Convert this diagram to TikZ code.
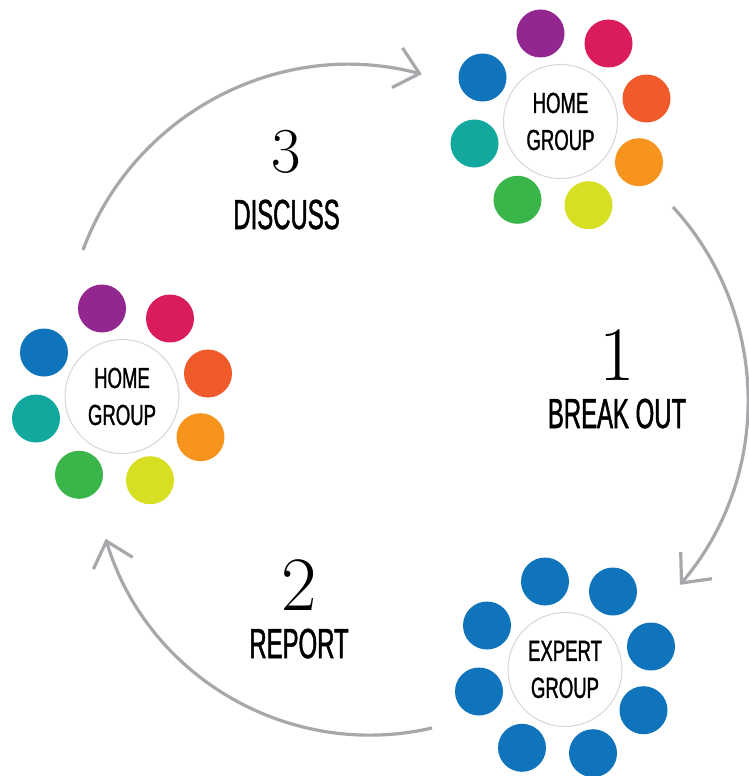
\documentclass[tikz,border=0pt]{standalone}
\usepackage{fontspec}
\newfontfamily\grpfont[FakeStretch=0.64,FakeBold=1.2]{Liberation Sans}
\newfontfamily\stepfont[FakeStretch=0.57,FakeBold=1.2]{Liberation Sans}
\usetikzlibrary{arrows.meta}
\definecolor{cpurple}{HTML}{92278F}
\definecolor{cmagenta}{HTML}{DA1C5C}
\definecolor{corangered}{HTML}{F15A2B}
\definecolor{corange}{HTML}{F7941E}
\definecolor{cyellow}{HTML}{D7DF23}
\definecolor{cgreen}{HTML}{39B54A}
\definecolor{cteal}{HTML}{12A89D}
\definecolor{cblue}{HTML}{1074BC}
\definecolor{hubline}{HTML}{D6D6D6}
\definecolor{arrowgray}{HTML}{A7A8AB}
\begin{document}
\begin{tikzpicture}[x=1pt,y=1pt,
  hub/.style={circle, draw=hubline, line width=1pt, fill=white, minimum size=114pt,
    inner sep=0pt, align=center, font=\grpfont\fontsize{29}{37}\selectfont},
  dot/.style={circle, minimum size=48pt, inner sep=0pt},
  flow/.style={draw=arrowgray, line width=3.2pt, -{Straight Barb[length=23pt,width=41pt]}},
  num/.style={anchor=base, inner sep=0pt, font=\fontsize{77}{80}\selectfont},
  lbl/.style={anchor=base, inner sep=0pt, font=\stepfont\fontsize{42}{48}\selectfont}]
\useasboundingbox[fill=white] (0,0) rectangle (748,-776);

% hubs
\node[hub] (hT) at (560.5,-121.5) {HOME\\GROUP};
\node[hub] (hL) at (122,-396.5) {HOME\\GROUP};
\node[hub] (hE) at (565,-669.5) {EXPERT\\GROUP};

% satellites of the home groups
\foreach \g in {hT,hL}{
  \foreach \n/\dx/\dy/\col in {1/-20/88/cpurple, 2/48/78/cmagenta, 3/86/23/corangered,
      4/78.5/-40.7/corange, 5/28/-83.7/cyellow, 6/-43/-78.3/cgreen,
      7/-86/-22/cteal, 8/-78/44/cblue}{
    \node[dot, fill=\col] (\g-\n) at ([shift={(\dx,\dy)}]\g) {};
  }
}
% satellites of the expert group
\foreach \n/\dx/\dy in {1/-20/88, 2/48/78, 3/86/23, 4/78.5/-40.7, 5/28/-83.7,
    6/-43/-78.3, 7/-86/-22, 8/-78/44}{
  \node[dot, fill=cblue] (hE-\n) at ([shift={(\dx,\dy)}]hE) {};
}

% step labels
\node[num, font=\fontsize{64}{70}\selectfont] (n3) at (286,-172) {3};
\node[lbl] (l3) at (286.5,-229) {DISCUSS};
\node[num] (n1) at (617,-380) {1};
\node[lbl] (l1) at (617,-428) {BREAK OUT};
\node[num] (n2) at (299,-610) {2};
\node[lbl] (l2) at (299,-658) {REPORT};

% flow arrows
\coordinate (a1s) at (83,-250);
\coordinate (a2s) at (673,-207);
\coordinate (a3s) at (432,-728);
\draw[flow] (a1s) arc[start angle=159.65, end angle=75.2, radius=284pt];
\draw[flow] (a2s) arc[start angle=42.4, end angle=-40.3, radius=286pt];
\draw[flow] (a3s) arc[start angle=-77, end angle=-163.2, radius=276pt];
\end{tikzpicture}
\end{document}
